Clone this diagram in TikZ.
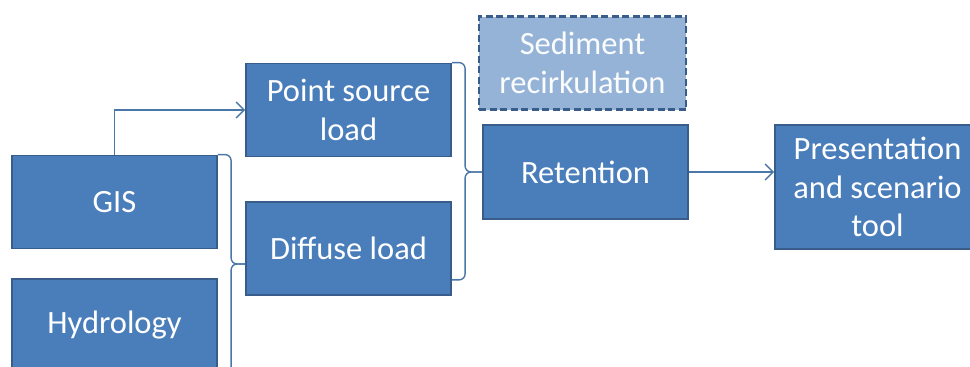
\documentclass[tikz,border=0pt]{standalone}
\usepackage{fontspec}
\setmainfont{Carlito}
\usetikzlibrary{arrows.meta,calc}
\definecolor{boxfill}{HTML}{4A7EBB}
\definecolor{boxedge}{HTML}{385D8A}
\definecolor{softfill}{HTML}{95B3D7}
\definecolor{linkcol}{HTML}{4A76A8}
\tikzset{
  block/.style={draw=boxedge, line width=1.8pt, fill=boxfill, text=white,
    minimum width=205pt, minimum height=93pt, inner sep=0pt, align=center,
    font=\fontsize{32.5}{38.5}\selectfont},
  optblock/.style={block, fill=softfill, line width=2.2pt, dash pattern=on 7pt off 3.5pt, text=white!96!softfill},
  link/.style={draw=linkcol, line width=1.4pt},
  arrowlink/.style={link, -{Straight Barb[length=8pt,width=16pt,line width=1.4pt]}},
  bracelink/.style={link, rounded corners=6pt}
}
\begin{document}
\begin{tikzpicture}[x=1pt,y=-1pt]
  \useasboundingbox (0,0) rectangle (970,367);
  \clip (0,0) rectangle (970,367);
  \fill[white] (0,0) rectangle (970,367);

  % source data
  \node[block] (gis) at (114.5,202) {GIS};
  \node[block] (hydro) at (114.5,325.5) {Hydrology};

  % loads
  \node[block] (point) at (348.5,110) {Point source\\load};
  \node[block] (diffuse) at (348.5,248.5) {Diffuse load};

  % retention and the optional sediment step
  \node[optblock, minimum width=207pt] (sediment) at (582.5,63) {Sediment\\recirkulation};
  \node[block, minimum height=94pt] (retention) at (585.5,172) {Retention};

  % output
  \node[block, minimum height=124pt] (present) at (877.5,187) {Presentation\\and scenario\\tool};

  % GIS feeds point source load
  \draw[arrowlink] (gis.north) |- (point.west);

  % GIS and hydrology combine into diffuse load
  \coordinate (tipA) at ($(diffuse.west)+(0,15.5)$);
  \draw[bracelink] (gis.north east) -| ($(tipA)+(-14,0)$) -- (tipA);
  \draw[bracelink] (hydro.south east) -| ($(tipA)+(-14,0)$) -- (tipA);

  % both loads combine into retention
  \coordinate (loadsEnd) at ($(diffuse.south east)+(0,-16)$);
  \draw[bracelink] (point.north east) -| ($(retention.west)+(-17,0)$) -- (retention.west);
  \draw[bracelink] (loadsEnd) -| ($(retention.west)+(-17,0)$) -- (retention.west);

  % retention to presentation
  \draw[arrowlink] (retention.east) -- (retention.east -| present.west);
\end{tikzpicture}
\end{document}
